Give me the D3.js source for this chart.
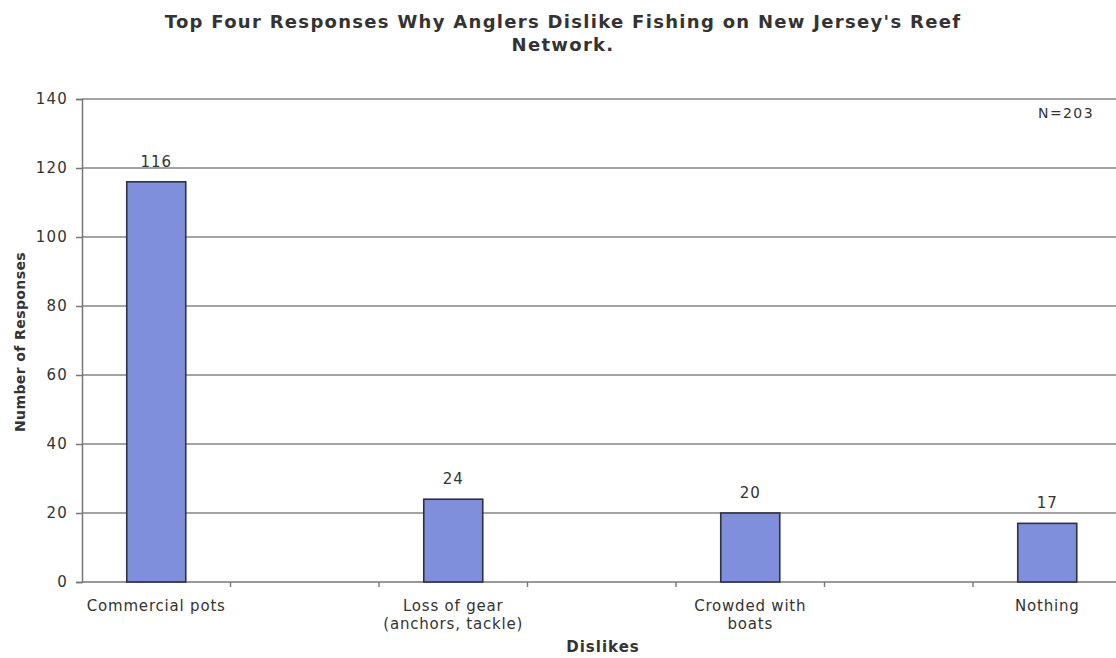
<!DOCTYPE html>
<html>
<head>
<meta charset="utf-8">
<script src="https://cdn.jsdelivr.net/npm/d3@7/dist/d3.min.js"></script>
<style>
  html, body { margin: 0; padding: 0; background: #fff; }
  svg { display: block; }
  text { font-family: "DejaVu Sans", Verdana, sans-serif; fill: #333; }
</style>
</head>
<body>
<svg id="chart" width="1116" height="658"></svg>
<script>
// Survey responses: top four dislikes about the reef network
const categories = ["Commercial pots", "Loss of gear\n(anchors, tackle)", "Crowded with\nboats", "Nothing"];
const responses = [116, 24, 20, 17];
const yTicks = [0, 20, 40, 60, 80, 100, 120, 140];
const titleLines = ["Top Four Responses Why Anglers Dislike Fishing on New Jersey's Reef", "Network."];
const sampleNote = "N=203";

const svg = d3.select("#chart");
const plot = { left: 82, top: 99, bottom: 582, right: 1116 };
const slotsPerCategory = 2; // each category band holds the bar slot and an empty slot

const x = d3.scaleBand()
  .domain(categories)
  .range([plot.left, plot.left + 297 * categories.length])
  .padding(0);
const slot = x.bandwidth() / slotsPerCategory;
const barW = 59;

const y = d3.scaleLinear().domain([0, 140]).range([plot.bottom, plot.top]);

// horizontal gridlines
svg.append("g")
  .selectAll("line")
  .data(yTicks.filter(d => d > 0))
  .join("line")
  .attr("x1", plot.left).attr("x2", plot.right)
  .attr("y1", d => y(d)).attr("y2", d => y(d))
  .attr("stroke", "#858585").attr("stroke-width", 1.5);

// y axis
const yAxis = svg.append("g")
  .attr("transform", `translate(${plot.left},0)`)
  .call(d3.axisLeft(y).tickValues(yTicks).tickSize(6).tickPadding(8));
yAxis.select(".domain").attr("stroke", "#777").attr("stroke-width", 1.5);
yAxis.selectAll(".tick line").attr("stroke", "#777").attr("stroke-width", 1.5);
yAxis.selectAll(".tick text")
  .attr("font-size", 15).attr("fill", "#333")
  .attr("letter-spacing", 1.2)
  .attr("font-family", "DejaVu Sans, Verdana, sans-serif");

// x axis baseline with ticks at every slot boundary
const slotTicks = [];
categories.forEach(c => {
  for (let k = 0; k < slotsPerCategory; k++) slotTicks.push(x(c) + k * slot);
});
svg.append("line")
  .attr("x1", plot.left).attr("x2", plot.right)
  .attr("y1", y(0)).attr("y2", y(0))
  .attr("stroke", "#777").attr("stroke-width", 1.6);
svg.append("g")
  .selectAll("line")
  .data(slotTicks.filter(v => v > plot.left && v < plot.right))
  .join("line")
  .attr("x1", d => d).attr("x2", d => d)
  .attr("y1", y(0)).attr("y2", y(0) + 5)
  .attr("stroke", "#777").attr("stroke-width", 1.4);

// bars
const barX = c => x(c) + slot / 2 - barW / 2;
svg.append("g")
  .selectAll("rect")
  .data(categories)
  .join("rect")
  .attr("x", c => barX(c))
  .attr("y", (c, i) => y(responses[i]))
  .attr("width", barW)
  .attr("height", (c, i) => y(0) - y(responses[i]))
  .attr("fill", "#7f8fdc")
  .attr("stroke", "#2e3140")
  .attr("stroke-width", 1.6);

// value labels
svg.append("g")
  .selectAll("text")
  .data(categories)
  .join("text")
  .attr("x", c => x(c) + slot / 2)
  .attr("y", (c, i) => y(responses[i]) - 15)
  .attr("text-anchor", "middle")
  .attr("font-size", 15)
  .attr("letter-spacing", 1)
  .text((c, i) => responses[i]);

// category labels
svg.append("g")
  .selectAll("text")
  .data(categories)
  .join("text")
  .attr("x", c => x(c) + slot / 2)
  .attr("y", 611)
  .attr("text-anchor", "middle")
  .attr("font-size", 15)
  .attr("letter-spacing", 0.8)
  .each(function (c) {
    const lines = c.split("\n");
    d3.select(this).selectAll("tspan")
      .data(lines)
      .join("tspan")
      .attr("x", x(c) + slot / 2)
      .attr("dy", (d, i) => i === 0 ? 0 : 18)
      .text(d => d);
  });

// title
svg.append("text")
  .attr("x", 563).attr("y", 28)
  .attr("text-anchor", "middle")
  .attr("font-size", 18).attr("font-weight", "bold")
  .attr("letter-spacing", 1.3)
  .selectAll("tspan")
  .data(titleLines)
  .join("tspan")
  .attr("x", 563)
  .attr("dy", (d, i) => i === 0 ? 0 : 23)
  .text(d => d);

// axis titles
svg.append("text")
  .attr("transform", `translate(25,342) rotate(-90)`)
  .attr("text-anchor", "middle")
  .attr("font-size", 14).attr("font-weight", "bold")
  .attr("letter-spacing", 0.4)
  .text("Number of Responses");

svg.append("text")
  .attr("x", 603).attr("y", 652)
  .attr("text-anchor", "middle")
  .attr("font-size", 15).attr("font-weight", "bold")
  .attr("letter-spacing", 1)
  .text("Dislikes");

// sample size note
svg.append("text")
  .attr("x", 1066).attr("y", 118)
  .attr("text-anchor", "middle")
  .attr("font-size", 14)
  .attr("letter-spacing", 1.4)
  .text(sampleNote);
</script>
</body>
</html>
